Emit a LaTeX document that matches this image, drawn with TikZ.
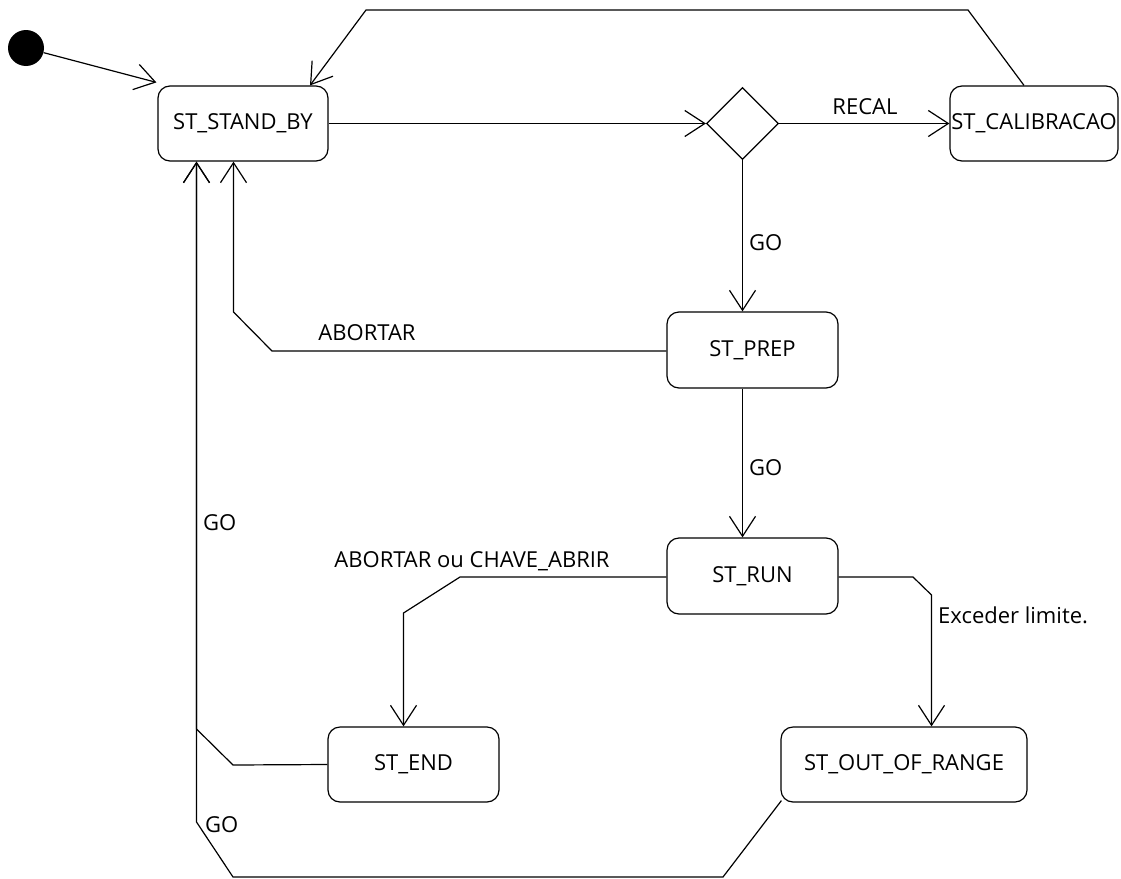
\documentclass[tikz,border=0pt]{standalone}
\usepackage{fontspec}
\setmainfont{Open Sans}
\usetikzlibrary{arrows.meta,shapes.geometric,calc}
\begin{document}
\begin{tikzpicture}[x=1pt,y=-1pt,
  state/.style={draw,line width=1.2pt,rounded corners=12pt,inner sep=0pt,minimum height=75pt,font=\fontsize{22}{26}\selectfont},
  choice/.style={draw,diamond,line width=1.2pt,minimum width=72pt,minimum height=72pt,inner sep=0pt},
  trans/.style={line width=1.2pt,-{Straight Barb[length=20pt,width=26pt,line width=1.2pt]}},
  plain/.style={line width=1.2pt},
  lbl/.style={font=\fontsize{22}{26}\selectfont,inner sep=0pt},
  initst/.style={circle,fill=black,minimum size=36pt,inner sep=0pt}]
\useasboundingbox (0,0) rectangle (1121,878);

% states
\node[initst] (init) at (26,48) {};
\node[state,minimum width=170pt] (sb) at (243,123.5) {ST\_STAND\_BY};
\node[choice] (d) at (742.5,123.5) {};
\node[state,minimum width=168pt] (cal) at (1034,123.5) {ST\_CALIBRACAO};
\node[state,minimum width=171pt,minimum height=76pt] (prep) at (752.5,350) {ST\_PREP};
\node[state,minimum width=171pt,minimum height=76pt] (run) at (752.5,576) {ST\_RUN};
\node[state,minimum width=171pt] (end) at (413.5,764.5) {ST\_END};
\node[state,minimum width=246pt] (oor) at (904,764.5) {ST\_OUT\_OF\_RANGE};

% bend points
\coordinate (t1) at (968,10);
\coordinate (t2) at (366,10);
\coordinate (a1) at (272,351);
\coordinate (a2) at (233.5,312);
\coordinate (r1) at (460,577);
\coordinate (r2) at (403.5,613);
\coordinate (e1) at (913,577);
\coordinate (e2) at (931.5,595);
\coordinate (n1) at (233,765);
\coordinate (n2) at (196.5,729);
\coordinate (o1) at (723,877);
\coordinate (o2) at (233,877);
\coordinate (o3) at (196.5,822);

% transitions
\draw[trans] (init) -- ($(sb.north west)+(-1,-3)$);
\draw[trans] (sb.east) -- (d.west);
\draw[trans] (d.east) -- (cal.west);
\draw[trans] ($(cal.north)+(-10,0)$) -- (t1) -- (t2) -- ($(sb.north)+(67,0)$);
\draw[trans] (d.south) -- (d.south |- prep.north);
\draw[trans] (prep.west |- a1) -- (a1) -- (a2) -- (a2 |- sb.south);
\draw[trans] (prep.south -| d.south) -- (d.south |- run.north);
\draw[trans] (run.west |- r1) -- (r1) -- (r2) -- (r2 |- end.north);
\draw[trans] (run.east |- e1) -- (e1) -- (e2) -- (e2 |- oor.north);
\draw[trans] (end.west) -- (n1) -- (n2) -- (n2 |- sb.south);
\draw[trans] ($(oor.south west)+(1,-2)$) -- (o1) -- (o2) -- (o3) -- (o3 |- sb.south);

% labels
\node[lbl] (lrecal) at (865,107) {RECAL};
\node[lbl,anchor=west] (lgo1) at (749,243) {GO};
\node[lbl] (labort) at (367,333) {ABORTAR};
\node[lbl,anchor=west] (lgo2) at (749,468) {GO};
\node[lbl] (lchave) at (472,561) {ABORTAR ou CHAVE\_ABRIR};
\node[lbl,anchor=west] (lexc) at (938,615) {Exceder limite.};
\node[lbl,anchor=west] (lgo3) at (203,523) {GO};
\node[lbl,anchor=west] (lgo4) at (205,825) {GO};
\end{tikzpicture}
\end{document}
